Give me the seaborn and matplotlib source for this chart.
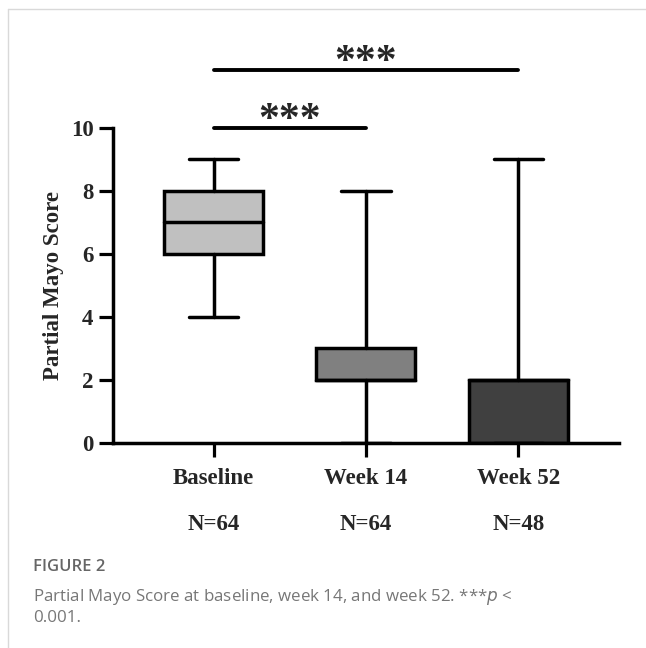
"""
Box plot of Partial Mayo Score at baseline, week 14 and week 52.
"""

import matplotlib.pyplot as plt
import pandas as pd
import seaborn as sns
from matplotlib.lines import Line2D

# Five-number summaries (min, Q1, median, Q3, max)
groups = ["Baseline", "Week 14", "Week 52"]
baseline_scores = [4, 6, 7, 8, 9]
week14_scores = [0, 2, 2, 3, 8]
week52_scores = [0, 0, 2, 2, 9]
n_labels = ["N=64", "N=64", "N=48"]
box_colors = ["#c0c0c0", "#808080", "#404040"]
y_ticks = [0, 2, 4, 6, 8, 10]

# significance brackets: (start group, end group, height)
brackets = [(0, 1, 10.0), (0, 2, 11.84)]


def main():
    df = pd.DataFrame({
        "group": [groups[0]] * len(baseline_scores)
        + [groups[1]] * len(week14_scores)
        + [groups[2]] * len(week52_scores),
        "score": baseline_scores + week14_scores + week52_scores,
    })

    sns.set_style("white")
    serif = ["Liberation Serif", "DejaVu Serif"]

    fig = plt.figure(figsize=(6.46, 6.48), dpi=100)
    ax = fig.add_axes([0.175, 0.3164, 0.783, 0.4861])

    sns.boxplot(data=df, x="group", y="score", hue="group",
                palette=box_colors, whis=(0, 100), width=0.65,
                linecolor="black", linewidth=2.5, showfliers=False,
                legend=False, ax=ax)
    # rounded ends on whiskers and caps, as in the original
    for line in ax.lines:
        line.set_solid_capstyle("round")

    ax.set_xlim(-0.66, 2.66)
    ax.set_ylim(0, 10)
    ax.set_yticks(y_ticks)
    ax.set_yticklabels([str(t) for t in y_ticks], fontsize=16.5,
                       fontweight="bold", family=serif)
    ax.set_xticks(range(len(groups)))
    ax.set_xticklabels(groups, fontsize=16.5, fontweight="bold",
                       family=serif)
    ax.set_xlabel("")
    ax.set_ylabel("Partial Mayo Score", fontsize=16.5, fontweight="bold",
                  family=serif, labelpad=5)

    sns.despine(ax=ax)
    for side in ["left", "bottom"]:
        ax.spines[side].set_linewidth(2.5)
        ax.spines[side].set_color("black")
    ax.tick_params(axis="both", length=10, width=2.3, color="black",
                   left=True, bottom=True)
    ax.tick_params(axis="x", pad=8)
    ax.tick_params(axis="y", pad=4)

    # sample sizes under the group names
    for i, label in enumerate(n_labels):
        ax.text(i, -0.26, label, transform=ax.get_xaxis_transform(),
                ha="center", va="center", fontsize=16.5, fontweight="bold",
                family=serif)

    # significance bars
    for start, end, height in brackets:
        ax.plot([start, end], [height, height], color="black", lw=2.8,
                solid_capstyle="round", clip_on=False)
        ax.text((start + end) / 2, height + 0.22, "***", ha="center",
                va="center", fontsize=30, fontweight="bold", family=serif,
                clip_on=False)

    # light frame and caption
    fig.add_artist(Line2D([8 / 646, 1], [1 - 9 / 648, 1 - 9 / 648],
                          color="#d9d9d9", lw=1))
    fig.add_artist(Line2D([8 / 646, 8 / 646], [0, 1 - 9 / 648],
                          color="#d9d9d9", lw=1))
    fig.text(33 / 646, 1 - 567 / 648, "FIGURE 2", fontsize=12,
             fontweight="semibold", color="#666666", family="Open Sans",
             va="center")
    fig.text(33 / 646, 1 - 597 / 648,
             "Partial Mayo Score at baseline, week 14, and week 52. ***$p$ <",
             fontsize=12.2, color="#777777", family="Open Sans", va="center")
    fig.text(33 / 646, 1 - 618 / 648, "0.001.", fontsize=12.2,
             color="#777777", family="Open Sans", va="center")

    fig.savefig("out.png", dpi=100)


if __name__ == "__main__":
    main()
